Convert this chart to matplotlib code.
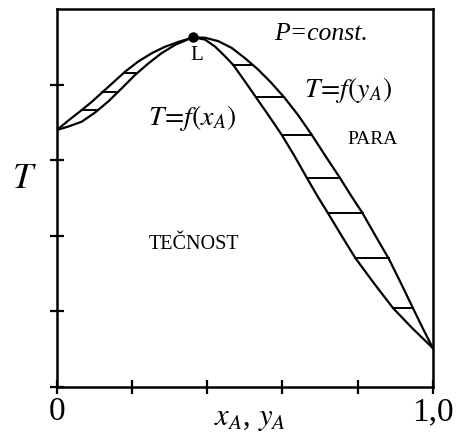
import numpy as np
import matplotlib
matplotlib.use("Agg")
import matplotlib.pyplot as plt

plt.rcParams['font.family'] = ['Liberation Serif', 'DejaVu Serif']
plt.rcParams['mathtext.fontset'] = 'stix'

# liquid curve T = f(x_A): left branch up to L, then right branch
liq_x = [0.000, 0.030, 0.066, 0.101, 0.136, 0.172, 0.207, 0.243, 0.278, 0.314, 0.349,
         0.3625,
         0.394, 0.420, 0.447, 0.469, 0.499, 0.529, 0.564, 0.598, 0.632, 0.665,
         0.693, 0.721, 0.758, 0.794, 0.843, 0.894, 0.945, 1.000]
liq_T = [0.680, 0.689, 0.702, 0.726, 0.755, 0.790, 0.825, 0.856, 0.883, 0.905, 0.920,
         0.925,
         0.919, 0.901, 0.875, 0.852, 0.810, 0.767, 0.717, 0.667, 0.611, 0.553,
         0.505, 0.460, 0.399, 0.341, 0.275, 0.209, 0.156, 0.103]

# vapour curve T = f(y_A)
vap_y = [0.000, 0.029, 0.061, 0.092, 0.121, 0.152, 0.182, 0.216, 0.252, 0.287, 0.323,
         0.3625,
         0.394, 0.429, 0.465, 0.500, 0.535, 0.569, 0.604, 0.641, 0.678, 0.715,
         0.753, 0.782, 0.813, 0.848, 0.883, 0.915, 0.947, 0.973, 1.000]
vap_T = [0.680, 0.704, 0.729, 0.754, 0.780, 0.808, 0.835, 0.861, 0.883, 0.900, 0.913,
         0.925,
         0.924, 0.915, 0.897, 0.870, 0.840, 0.806, 0.767, 0.720, 0.667, 0.610,
         0.553, 0.507, 0.460, 0.399, 0.339, 0.275, 0.209, 0.156, 0.103]

# tie lines: temperature, liquid x_A, vapour y_A
tie_T = [0.733, 0.780, 0.831, 0.852, 0.767, 0.667, 0.553, 0.460, 0.340, 0.209]
tie_x = [0.109, 0.162, 0.213, 0.469, 0.529, 0.598, 0.665, 0.721, 0.794, 0.894]
tie_y = [0.066, 0.121, 0.178, 0.519, 0.604, 0.678, 0.753, 0.813, 0.883, 0.947]

azeo_x, azeo_T = 0.3625, 0.925

fig = plt.figure(figsize=(4.58, 4.37), dpi=100)
ax = fig.add_axes([0.1245, 0.1144, 0.8205, 0.865])

ax.plot(liq_x, liq_T, color='black', lw=1.6, solid_joinstyle='round')
ax.plot(vap_y, vap_T, color='black', lw=1.6, solid_joinstyle='round')
for t, a, b in zip(tie_T, tie_x, tie_y):
    ax.plot([a, b], [t, t], color='black', lw=1.4)
ax.plot([azeo_x], [azeo_T], 'o', color='black', ms=6.5)

ax.set_xlim(0, 1)
ax.set_ylim(0, 1)
ax.set_xticks([0, 0.2, 0.4, 0.6, 0.8, 1.0])
ax.set_xticklabels(['0', '', '', '', '', '1,0'])
ax.set_yticks([0, 0.2, 0.4, 0.6, 0.8])
ax.set_yticklabels([])
ax.tick_params(direction='inout', length=10, width=1.6, labelsize=24, pad=2)
for spine in ax.spines.values():
    spine.set_linewidth(1.8)

# axis titles
ax.text(-0.087, 0.548, '$T$', fontsize=26, ha='center', va='center',
        transform=ax.transAxes)
ax.text(0.513, -0.082, '$x_A$, $y_A$', fontsize=22, ha='center', va='center',
        transform=ax.transAxes)

ax.text(0.372, 0.876, 'L', fontsize=15, ha='center', va='center')
ax.text(0.702, 0.935, 'P=const.', fontsize=18.5, style='italic', ha='center', va='center')
ax.text(0.774, 0.786, r'$T\!=\!f(y_A)$', fontsize=20, ha='center', va='center')
ax.text(0.36, 0.712, r'$T\!=\!f(x_A)$', fontsize=20, ha='center', va='center')
ax.text(0.84, 0.654, 'PARA', fontsize=14, ha='center', va='center')
ax.text(0.365, 0.376, 'TEČNOST', fontsize=14.5, ha='center', va='center')

fig.savefig('out.png', dpi=100)
